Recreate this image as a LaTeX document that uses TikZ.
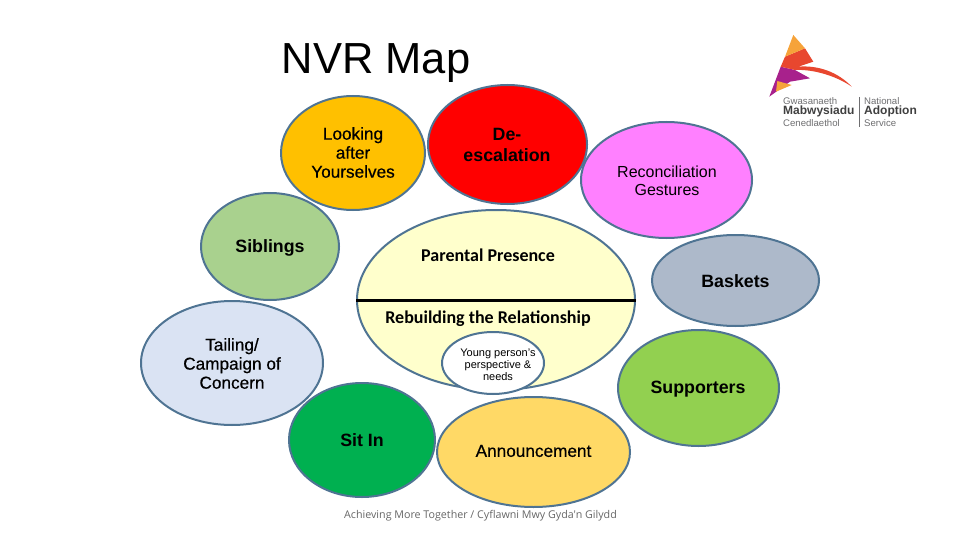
\documentclass[tikz,border=0pt]{standalone}
\usepackage{fontspec}
\setmainfont{Liberation Sans}
\newfontfamily\carlito{Carlito}
\newfontfamily\opensans{Open Sans}
\newfontfamily\heavier[FakeBold=0.5]{Liberation Sans}
\usepackage{tikz}
\usetikzlibrary{shapes.geometric}
\definecolor{rimblue}{HTML}{4F7493}
\definecolor{logored}{HTML}{E8472F}
\definecolor{logoamber}{HTML}{F6A33A}
\definecolor{logopurple}{HTML}{A8218C}
\definecolor{logogrey}{HTML}{6E6E70}

\begin{document}
\begin{tikzpicture}[
      x=1pt,
      y=-1pt,
      bubble/.style={ellipse, draw=rimblue, line width=2pt, inner sep=0pt},
      caption/.style={font=\fontsize{17.2}{19}\selectfont\heavier, align=center, text=black},
      boldcaption/.style={font=\fontsize{17.8}{21}\selectfont\bfseries, align=center, text=black},
      calibold/.style={font=\fontsize{18}{20}\selectfont\carlito\bfseries, align=center, text=black},
      logotext/.style={font=\fontsize{9.6}{10}\selectfont, anchor=west, inner sep=0pt, text=logogrey},
      logobold/.style={font=\fontsize{12}{12}\selectfont\bfseries, anchor=west, inner sep=0pt, text=black!75}
    ]
    \useasboundingbox (0,0) rectangle (960,540);

    \node[font=\fontsize{43.5}{48}\selectfont] (title) at (376,63) {NVR Map};

    \node[bubble, fill={rgb,255:red,255;green,192;blue,0}, minimum width=144pt, minimum height=114pt] (looking) at (353,153) {};
    \node[bubble, fill=red, minimum width=159pt, minimum height=119pt] (deesc) at (507.5,144.5) {};
    \node[bubble, fill={rgb,255:red,255;green,128;blue,255}, minimum width=171pt, minimum height=116pt] (recon) at (666.5,180) {};
    \node[bubble, fill={rgb,255:red,169;green,209;blue,142}, minimum width=138pt, minimum height=107pt] (siblings) at (270,246.5) {};
    \node[bubble, fill={rgb,255:red,255;green,255;blue,204}, minimum width=278pt, minimum height=180pt] (parental) at (496,300) {};
    \node[bubble, fill={rgb,255:red,173;green,185;blue,202}, minimum width=167pt, minimum height=91pt] (baskets) at (735.5,280.5) {};
    \node[bubble, fill={rgb,255:red,218;green,227;blue,243}, minimum width=182pt, minimum height=124pt] (tailing) at (232,363) {};
    \node[bubble, fill=white, minimum width=102pt, minimum height=62pt] (young) at (493,363) {};
    \node[bubble, fill={rgb,255:red,146;green,208;blue,80}, minimum width=161pt, minimum height=116pt] (supporters) at (698.5,388) {};
    \node[bubble, fill={rgb,255:red,0;green,176;blue,80}, minimum width=146pt, minimum height=114pt] (sitin) at (362,440) {};
    \node[bubble, fill={rgb,255:red,255;green,217;blue,102}, minimum width=193pt, minimum height=110pt] (announce) at (533.5,452) {};

    \draw[black, line width=3pt] (parental.west) -- (parental.east);

    \node[caption] (lookingtext) at (353,152.5) {Looking\\after\\Yourselves};
    \node[boldcaption] (deesctext) at (507,145) {De-\\escalation};
    \node[caption, font=\fontsize{16}{18}\selectfont] (recontext) at (667,180.5) {Reconciliation\\Gestures};
    \node[boldcaption] (siblingstext) at (270,248) {Siblings};
    \node[calibold] (parentaltext) at (488,255.5) {Parental Presence};
    \node[boldcaption] (basketstext) at (735.5,281) {Baskets};
    \node[calibold] (rebuildtext) at (488,319) {Rebuilding the Relationship};
    \node[caption] (tailingtext) at (232,363.5) {Tailing/\\Campaign of\\Concern};
    \node[caption, font=\fontsize{11}{12}\selectfont] (youngtext) at (498,365) {Young person's\\perspective \&\\needs};
    \node[boldcaption] (supporterstext) at (698,389) {Supporters};
    \node[boldcaption] (sitintext) at (362,440) {Sit In};
    \node[caption] (announcetext) at (533.5,451) {Announcement};
    \node[font=\fontsize{10.7}{13}\selectfont\opensans, text=black!60] (footer) at (480.5,516) {Achieving More Together / Cyflawni Mwy Gyda'n Gilydd};

    \fill[logopurple] (780.7,66.7) -- (795,70) -- (810,78.3) -- (790,81.7) -- (780,89) -- (769.3,96.7) -- cycle;
    \fill[logored] (785,56.7) -- (805,48.3) -- (813.3,61.7) -- (798.3,66.7) .. controls (818,65) and (838,72) .. (851.7,86.7) .. controls (838,77) and (815,69) .. (795,70) -- (780.7,66.7) -- cycle;
    \fill[logoamber] (793.3,35) -- (785,56.7) -- (805,48.3) -- cycle;
    \fill[logoamber] (777.3,81) -- (791.7,85) -- (776,91.7) -- cycle;

    \node[logotext] (gwasanaeth) at (783,101) {Gwasanaeth};
    \node[logobold] (mabwysiadu) at (783,111.5) {Mabwysiadu};
    \node[logotext] (cenedlaethol) at (783,123) {Cenedlaethol};
    \node[logotext] (national) at (864,101) {National};
    \node[logobold] (adoption) at (864,111.5) {Adoption};
    \node[logotext] (service) at (864,123) {Service};
    \draw[logogrey, line width=0.7pt] (859,97) -- (859,127);
\end{tikzpicture}
\end{document}
